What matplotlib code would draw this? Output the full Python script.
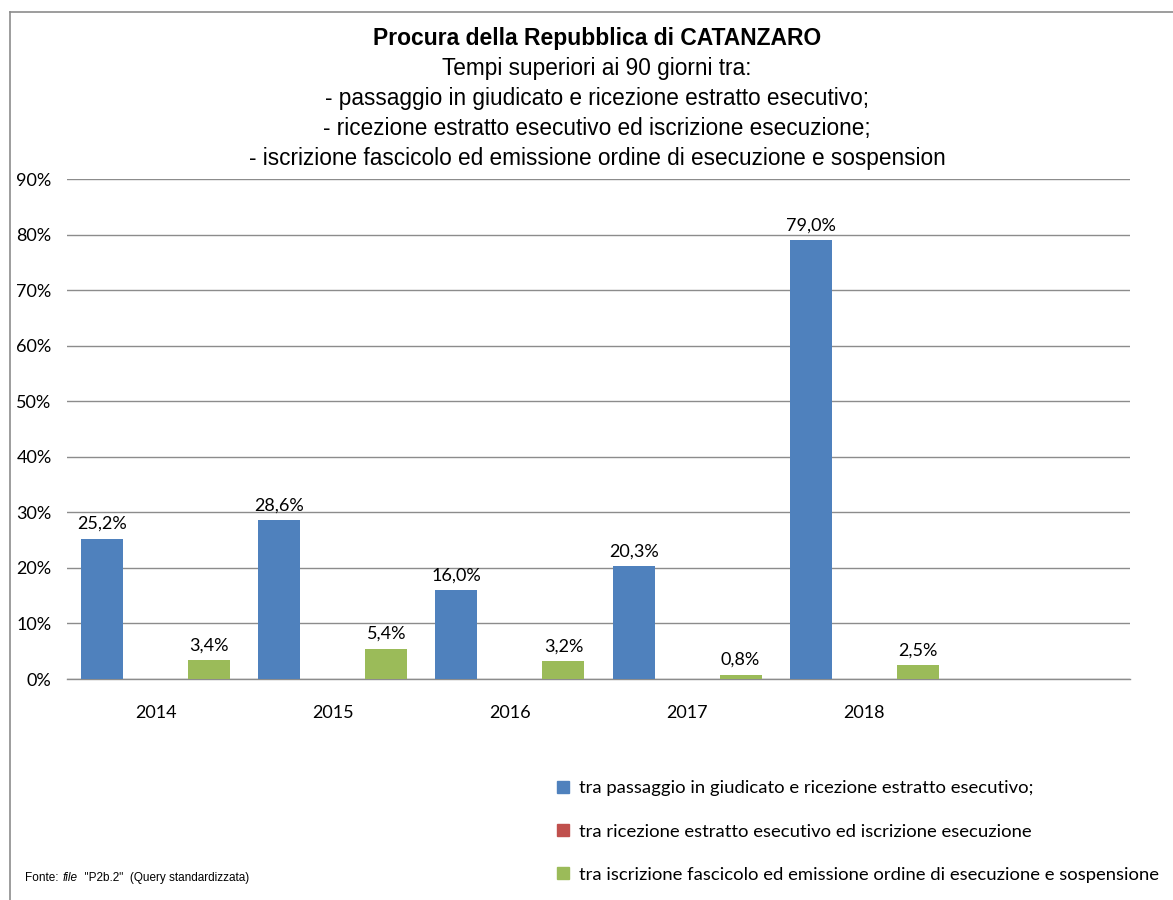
import matplotlib
matplotlib.use("Agg")
import matplotlib.pyplot as plt
from matplotlib.patches import Patch
import numpy as np

years = ["2014", "2015", "2016", "2017", "2018", ""]
s1_name = "tra passaggio in giudicato e ricezione estratto esecutivo;"
s2_name = "tra ricezione estratto esecutivo ed iscrizione esecuzione"
s3_name = "tra iscrizione fascicolo ed emissione ordine di esecuzione e sospensione"
s1 = [25.2, 28.6, 16.0, 20.3, 79.0]
s2 = [0.0, 0.0, 0.0, 0.0, 0.0]
s3 = [3.4, 5.4, 3.2, 0.8, 2.5]
yticks = [0, 10, 20, 30, 40, 50, 60, 70, 80, 90]

c1, c2, c3 = "#4F81BD", "#C0504D", "#9BBB59"
lab_font = ["Lato", "DejaVu Sans"]

fig = plt.figure(figsize=(11.73, 9), dpi=100)
ax = fig.add_axes([67/1173, 1-679/900, (1130-67)/1173, 500/900])

x = np.arange(len(s1))
w = 0.237
off = 0.302
b1 = ax.bar(x - off, s1, w, color=c1, zorder=3)
b2 = ax.bar(x, s2, w, color=c2, zorder=3)
b3 = ax.bar(x + off, s3, w, color=c3, zorder=3)

for bars, vals in ((b1, s1), (b3, s3)):
    for r, v in zip(bars, vals):
        ax.annotate(f"{v:.1f}%".replace(".", ","), (r.get_x() + r.get_width()/2, v),
                    xytext=(0, 5), textcoords="offset points", ha="center", va="bottom",
                    fontsize=13, family=lab_font, color="#000000")

ax.set_xlim(-0.5, len(years) - 0.5)
ax.set_ylim(0, 90)
ax.set_yticks(yticks)
ax.set_yticklabels([f"{t}%" for t in yticks], family=lab_font, fontsize=13)
ax.set_xticks(np.arange(len(years)))
ax.set_xticklabels(years, family=lab_font, fontsize=13)
ax.tick_params(axis="both", length=0)
ax.tick_params(axis="y", pad=11)
ax.tick_params(axis="x", pad=19)
ax.grid(axis="y", color="#8c8c8c", linewidth=1.0, zorder=0)
for s in ("top", "right", "left"):
    ax.spines[s].set_visible(False)
ax.spines["bottom"].set_color("#8c8c8c")
ax.spines["bottom"].set_linewidth(1.0)

# titles
fig.text(597/1173, 1-38/900, "Procura della Repubblica di CATANZARO", ha="center", va="center",
         fontsize=16.5, fontweight="bold", family="Liberation Sans")
subs = ["Tempi superiori ai 90 giorni tra:",
        "- passaggio in giudicato e ricezione estratto esecutivo;",
        "- ricezione estratto esecutivo ed iscrizione esecuzione;",
        "- iscrizione fascicolo ed emissione ordine di esecuzione e sospension"]
for i, s in enumerate(subs):
    fig.text(597/1173, 1-(68 + i*30)/900, s, ha="center", va="center",
             fontsize=16.3, family="Liberation Sans")

# legend
handles = [Patch(color=c1, label=s1_name), Patch(color=c2, label=s2_name),
           Patch(color=c3, label=s3_name)]
fig.legend(handles=handles, loc="upper left", bbox_to_anchor=(550/1173, 1-773/900),
           frameon=False, prop={"family": lab_font, "size": 13.3}, labelspacing=1.47,
           handlelength=0.65, handleheight=0.65, handletextpad=0.5, borderaxespad=0)

# source
fig.canvas.draw()
renderer = fig.canvas.get_renderer()
xpos = 25
ypos = 1 - 878/900
for txt, st in (("Fonte:", "normal"), ("file", "italic"), ("  \"P2b.2\"  (Query standardizzata)", "normal")):
    t = fig.text(xpos/1173, ypos, txt, ha="left", va="center", fontsize=8.5,
                 family="Liberation Sans", style=st)
    bb = t.get_window_extent(renderer=renderer)
    xpos += bb.width + (4 if txt == "Fonte:" else 0)

# chart border
fig.add_artist(plt.Line2D([10/1173, 1], [1-12/900, 1-12/900], color="#8c8c8c", lw=1.2))
fig.add_artist(plt.Line2D([10/1173, 10/1173], [0, 1-12/900], color="#8c8c8c", lw=1.2))

fig.savefig("out.png", dpi=100)
